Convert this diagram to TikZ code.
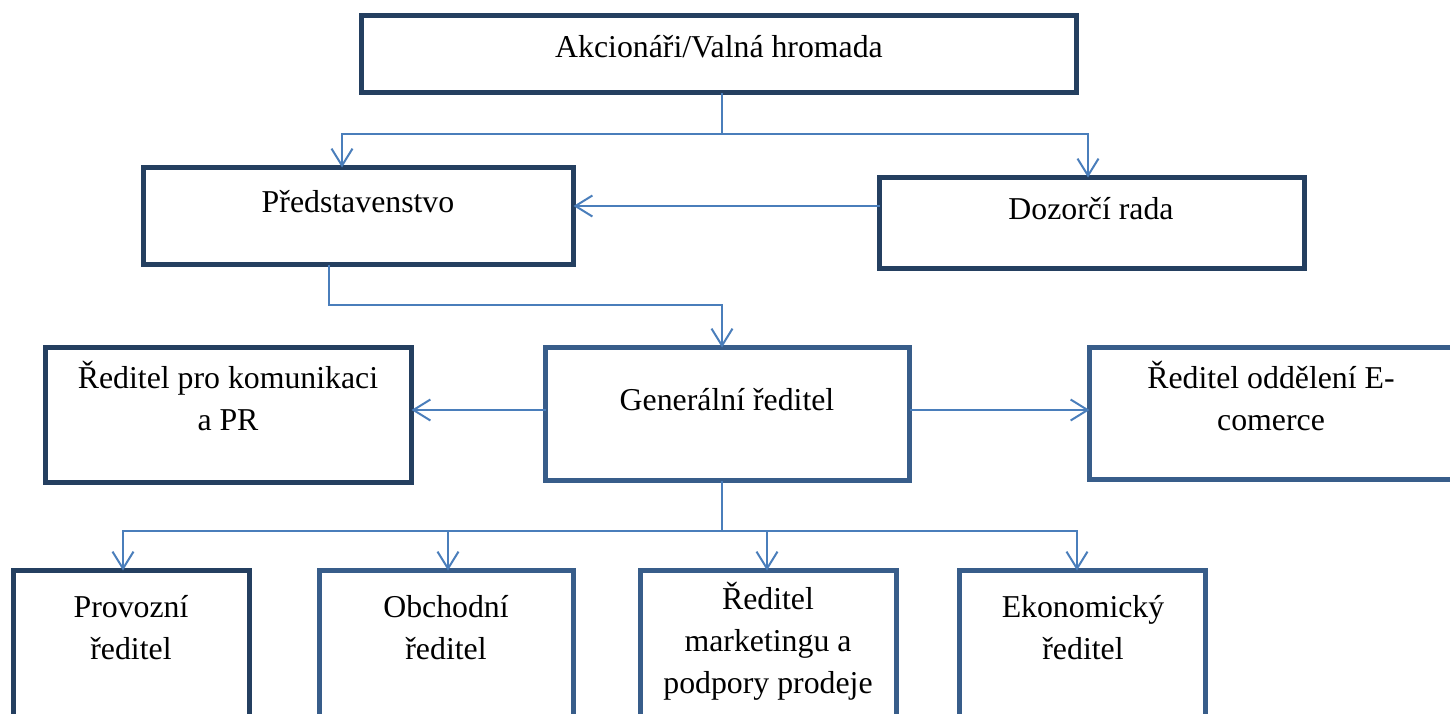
\documentclass[tikz,border=0pt]{standalone}
\usepackage{fontspec}
\setmainfont{Liberation Serif}
\usetikzlibrary{arrows.meta}
\definecolor{navy}{HTML}{243F60}
\definecolor{steel}{HTML}{385D8A}
\definecolor{link}{HTML}{4A7EBB}
\begin{document}
\begin{tikzpicture}[x=1pt,y=-1pt,
  frame/.style={draw=navy,line width=5pt,rectangle,inner sep=0pt,outer sep=0pt},
  frameB/.style={frame,draw=steel},
  % multi-line labels are placed by the baseline of their last line
  lbl/.style={font=\fontsize{31.8}{42}\selectfont,align=center,inner sep=0pt,anchor=base},
  conn/.style={draw=link,line width=2pt},
  arr/.style={conn,-{Straight Barb[length=17pt,width=21pt,line width=2pt]}}]
\useasboundingbox (0,0) rectangle (1450,713);
\clip (0,0) rectangle (1450,713);

% boxes
\node[frame,minimum width=715,minimum height=77] (akc) at (719,54) {};
\node[frame,minimum width=430,minimum height=97] (pred) at (358.5,216) {};
\node[frame,minimum width=425,minimum height=91] (dozor) at (1092,223) {};
\node[frame,minimum width=366,minimum height=135] (kom) at (228.5,415) {};
\node[frameB,minimum width=364,minimum height=133] (gen) at (727.5,414) {};
\node[frameB,minimum width=380.5,minimum height=132] (ecom) at (1279.75,413.5) {};
\node[frame,minimum width=236,minimum height=169.5] (prov) at (131.5,655.25) {};
\node[frameB,minimum width=254,minimum height=169.5] (obch) at (446.5,655.25) {};
\node[frameB,minimum width=256,minimum height=169.5] (mark) at (768.5,655.25) {};
\node[frameB,minimum width=246,minimum height=169.5] (ekon) at (1082.5,655.25) {};

% texts
\node[lbl] (takc) at (719,57) {Akcionáři/Valná hromada};
\node[lbl] (tpred) at (358,212) {Představenstvo};
\node[lbl] (tdozor) at (1091,219) {Dozorčí rada};
\node[lbl] (tkom) at (228,430) {Ředitel pro komunikaci\\a PR};
\node[lbl] (tgen) at (727,410) {Generální ředitel};
\node[lbl] (tecom) at (1271,430) {Ředitel oddělení E-\\comerce};
\node[lbl] (tprov) at (131,659) {Provozní\\ředitel};
\node[lbl] (tobch) at (446,659) {Obchodní\\ředitel};
\node[lbl] (tmark) at (768,693) {Ředitel\\marketingu a\\podpory prodeje};
\node[lbl] (tekon) at (1083,659) {Ekonomický\\ředitel};

% connectors
\coordinate (j1) at (722,134);
\coordinate (j2) at (722,305);
\coordinate (j3) at (722,531);
\draw[conn] (akc.south -| j1) -- (j1);
\draw[arr] (j1) -| ([xshift=-16.5]pred.north);
\draw[arr] (j1) -| ([xshift=-4]dozor.north);
\draw[arr] (dozor.west |- 0,206) -- (pred.east |- 0,206);
\draw[arr] ([xshift=-29.5]pred.south) |- (j2) -- (j2 |- gen.north);
\draw[arr] (gen.west |- 0,410) -- (kom.east |- 0,410);
\draw[arr] (gen.east |- 0,410) -- (ecom.west |- 0,410);
\draw[conn] (gen.south -| j3) -- (j3);
\draw[arr] (j3) -| ([xshift=-8.5]prov.north);
\draw[arr] (j3) -| ([xshift=1.5]obch.north);
\draw[arr] (j3) -| ([xshift=-1.5]mark.north);
\draw[arr] (j3) -| ([xshift=-5.5]ekon.north);
\end{tikzpicture}
\end{document}
